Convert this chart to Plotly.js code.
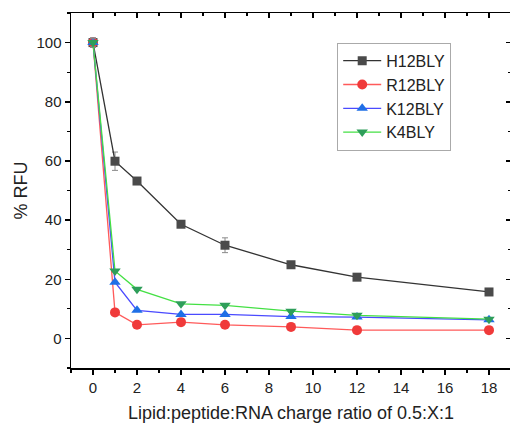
<!DOCTYPE html>
<html>
<head>
<meta charset="utf-8">
<script src="https://cdn.plot.ly/plotly-3.0.1.min.js"></script>
<style>html,body{margin:0;padding:0;overflow:hidden;background:#fff;}#chart{width:511px;height:423px;}</style>
</head>
<body>
<div id="chart"></div>
<script>
const ratios = [0, 1, 2, 4, 6, 9, 12, 18];
const seriesNames = ["H12BLY", "R12BLY", "K12BLY", "K4BLY"];
const h12bly = [100, 59.9, 53.2, 38.6, 31.5, 24.9, 20.7, 15.7];
const r12bly = [100, 8.8, 4.6, 5.5, 4.6, 3.9, 2.8, 2.8];
const k12bly = [100, 19.0, 9.5, 8.1, 8.1, 7.4, 7.2, 6.3];
const k4bly = [100, 22.8, 16.6, 11.7, 11.2, 9.2, 7.8, 6.5];
const h12blyErr = [1.5, 3.1, 0.5, 0.5, 2.5, 0.5, 0.5, 0.5];
const r12blyErr = [1.5, 0.3, 0.3, 0.3, 0.3, 0.3, 0.3, 0.3];
const k12blyErr = [1.5, 0.3, 0.3, 0.3, 0.3, 0.3, 0.3, 0.3];
const k4blyErr = [1.5, 0.3, 0.3, 0.3, 0.3, 0.3, 0.3, 0.3];
const xTicks = [0, 2, 4, 6, 8, 10, 12, 14, 16, 18];
const yTicks = [0, 20, 40, 60, 80, 100];

const values = [h12bly, r12bly, k12bly, k4bly];
const errs = [h12blyErr, r12blyErr, k12blyErr, k4blyErr];
const lineColors = ["#333333", "#ff5a5a", "#4a4aff", "#44e044"];
const markerColors = ["#4a4a4a", "#f03a3a", "#1f6fe6", "#2e9e5a"];
const symbols = ["square", "circle", "triangle-up", "triangle-down"];
const sizes = [9, 10, 10, 10];

const font = "Liberation Sans, Arial, sans-serif";
const traces = values.map((v, i) => ({
  x: ratios, y: v, name: seriesNames[i], type: "scatter", mode: "lines+markers",
  line: {color: lineColors[i], width: 1.3},
  marker: {symbol: symbols[i], size: sizes[i], color: markerColors[i], line: {width: 0}},
  error_y: {type: "data", array: errs[i], visible: true, color: "#8a8a8a", thickness: 1, width: 3}
}));
traces.push({x: [], y: [], xaxis: "x2", yaxis: "y2", showlegend: false, hoverinfo: "skip", type: "scatter", mode: "markers"});

const axCommon = {
  showgrid: false, zeroline: false, showline: true, linecolor: "#000", linewidth: 1.5,
  tickcolor: "#000", tickwidth: 1.5, ticklen: 5,
  tickfont: {family: font, size: 15, color: "#222"}
};

const layout = {
  width: 511, height: 423,
  margin: {l: 71, r: 0, t: 13, b: 55},
  paper_bgcolor: "#fff", plot_bgcolor: "#fff",
  showlegend: true,
  legend: {x: 0.605, y: 0.916, xanchor: "left", yanchor: "top",
    bordercolor: "#aaa", borderwidth: 1, bgcolor: "#fff",
    font: {family: font, size: 16, color: "#222"}, tracegroupgap: 0, itemwidth: 38},
  xaxis: Object.assign({}, axCommon, {
    range: [-1, 19], tickvals: xTicks, ticktext: xTicks.map(String), ticks: "outside",
    minor: {dtick: 1, tick0: 0, ticks: "outside", ticklen: 3, tickcolor: "#000", tickwidth: 1.2},
    title: {text: "Lipid:peptide:RNA charge ratio of 0.5:X:1", font: {family: font, size: 18, color: "#222"}, standoff: 16}
  }),
  yaxis: Object.assign({}, axCommon, {
    range: [-10, 110], tickvals: yTicks, ticktext: yTicks.map(String), ticks: "outside",
    minor: {dtick: 10, tick0: 0, ticks: "outside", ticklen: 3, tickcolor: "#000", tickwidth: 1.2},
    title: {text: "% RFU", font: {family: font, size: 18, color: "#222"}, standoff: 4}
  }),
  xaxis2: Object.assign({}, axCommon, {
    range: [-1, 19], overlaying: "x", side: "top", anchor: "y2", tickvals: xTicks, ticks: "inside",
    showticklabels: false,
    minor: {dtick: 1, tick0: 0, ticks: "inside", ticklen: 3, tickcolor: "#000", tickwidth: 1.2}
  }),
  yaxis2: Object.assign({}, axCommon, {
    range: [-10, 110], overlaying: "y", side: "right", anchor: "x2", tickvals: yTicks, ticks: "inside",
    showticklabels: false,
    minor: {dtick: 10, tick0: 0, ticks: "inside", ticklen: 3, tickcolor: "#000", tickwidth: 1.2}
  })
};

Plotly.newPlot("chart", traces, layout, {displayModeBar: false, staticPlot: true});
</script>
</body>
</html>
